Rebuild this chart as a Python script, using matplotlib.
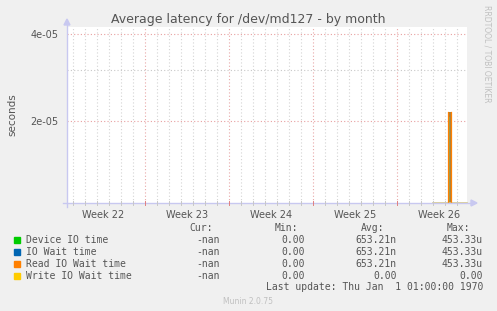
import numpy as np
import matplotlib.pyplot as plt

# munin-style latency chart, by month
title = "Average latency for /dev/md127 - by month"
week_labels = ["Week 22", "Week 23", "Week 24", "Week 25", "Week 26"]
week_starts = [6.5, 13.5, 20.5, 27.5]       # days from left edge
x_span = 33.33

series = ["Device IO time", "IO Wait time", "Read IO Wait time", "Write IO Wait time"]
colors = ["#00CC00", "#0066B3", "#FF8000", "#FFCC00"]
cur = ["-nan", "-nan", "-nan", "-nan"]
mins = ["0.00", "0.00", "0.00", "0.00"]
avgs = ["653.21n", "653.21n", "653.21n", "0.00"]
maxs = ["453.33u", "453.33u", "453.33u", "0.00"]

spike_x = [31.72, 31.96]
spike_y = [2.15e-05, 2.15e-05]
write_x = [30.5, x_span]

W, H = 497, 311
fig = plt.figure(figsize=(W / 100, H / 100), dpi=100, facecolor="#F0F0F0")


def px(x, y):
    return x / W, 1 - y / H


l, r, t, b = 67, 467, 27, 203
ymin, ymax = 1.04e-05, 4.24e-05
ax = fig.add_axes([l / W, 1 - b / H, (r - l) / W, (b - t) / H])
ax.set_facecolor("white")
ax.set_yscale("log")
ax.set_ylim(ymin, ymax)
ax.set_xlim(0, x_span)

# grid
for d in np.arange(0.5, x_span, 1.0):
    major = any(abs(d - w) < 1e-6 for w in week_starts)
    ax.axvline(d, color="#e8a8a8" if major else "#d4d4d4", lw=0.8,
               ls=(0, (1, 2)), zorder=1)
ax.set_yticks([2e-05, 4e-05])
ax.set_yticklabels(["2e-05", "4e-05"])
ax.set_yticks([3e-05], minor=True)
ax.yaxis.set_minor_formatter(plt.NullFormatter())
for yv in [2e-05, 4e-05]:
    ax.axhline(yv, color="#e8a0a0", lw=0.8, ls=(0, (1, 2)), zorder=1)
ax.axhline(3e-05, color="#c8c8c8", lw=0.8, ls=(0, (1, 2)), zorder=1)
ax.tick_params(axis="y", which="both", length=0, labelsize=7, labelcolor="#555555", pad=6)
ax.set_xticks([])

for s in ax.spines.values():
    s.set_visible(False)

# data
ax.fill_between(spike_x, 1e-06, spike_y, color="#a88040", lw=0, zorder=3)
ax.fill_between([spike_x[0] + 0.06, spike_x[1] - 0.06], 1e-06,
                [v * 0.96 for v in spike_y], color="#90b060", alpha=0.6, lw=0, zorder=3)
for xv, yv in zip(spike_x, spike_y):
    ax.plot([xv, xv], [1e-06, yv], color=colors[2], lw=0.9, zorder=4)
ax.plot(write_x, [ymin, ymin], color="#d8c880", lw=1.2, zorder=3, clip_on=False)

# week labels
for i, lab in enumerate(week_labels):
    xc = week_starts[0] - 3.5 + 7 * i
    ax.text(xc, -0.04, lab, transform=ax.get_xaxis_transform(), ha="center", va="top",
            fontsize=7, color="#555555")

# axis lines with arrows
axis_c = "#c8c8f0"
fig.add_artist(plt.Line2D([l / W, l / W], [1 - (b + 4) / H, 1 - 24 / H], color=axis_c, lw=1))
fig.add_artist(plt.Line2D([(l - 4) / W, 471 / W], [1 - b / H, 1 - b / H], color=axis_c, lw=1))
fig.add_artist(plt.Polygon([px(l - 3, 25), px(l + 3, 25), px(l, 19)], color=axis_c))
fig.add_artist(plt.Polygon([px(471, b - 3), px(471, b + 3), px(477, b)], color=axis_c))
for d in np.arange(0.5, x_span, 1.0):
    major = any(abs(d - w) < 1e-6 for w in week_starts)
    xp = l + d * 12
    fig.add_artist(plt.Line2D([xp / W, xp / W], [1 - (b - 2) / H, 1 - (b + 2) / H],
                              color="#e08080" if major else "#c8c8c8", lw=0.7))

fig.text(*px(248, 23), title, ha="center", va="baseline", fontsize=9, color="#555555")
fig.text(*px(12, 115), "seconds", ha="center", va="center", rotation=90,
         fontsize=7.5, color="#555555")
fig.text(*px(487, 5), "RRDTOOL / TOBI OETIKER", ha="center", va="top", rotation=270,
         fontsize=5.5, color="#c0c0c0")

# legend
mono = dict(family="DejaVu Sans Mono", fontsize=7, color="#555555", va="center")
fig.text(*px(213, 228), "Cur:", ha="right", **mono)
fig.text(*px(298, 228), "Min:", ha="right", **mono)
fig.text(*px(384, 228), "Avg:", ha="right", **mono)
fig.text(*px(470, 228), "Max:", ha="right", **mono)
for i, name in enumerate(series):
    y = 240 + i * 12
    fig.add_artist(plt.Rectangle(px(14, y + 3), 6 / W, 6 / H, color=colors[i]))
    fig.text(*px(26, y), name, ha="left", **mono)
    fig.text(*px(220, y), cur[i], ha="right", **mono)
    fig.text(*px(305, y), mins[i], ha="right", **mono)
    fig.text(*px(397, y), avgs[i], ha="right", **mono)
    fig.text(*px(483, y), maxs[i], ha="right", **mono)
fig.text(*px(483, 287), "Last update: Thu Jan  1 01:00:00 1970", ha="right", **mono)
fig.text(*px(248, 301), "Munin 2.0.75", ha="center", va="center", fontsize=5.5, color="#c0c0c0")

fig.savefig("out.png", dpi=100, facecolor=fig.get_facecolor())
